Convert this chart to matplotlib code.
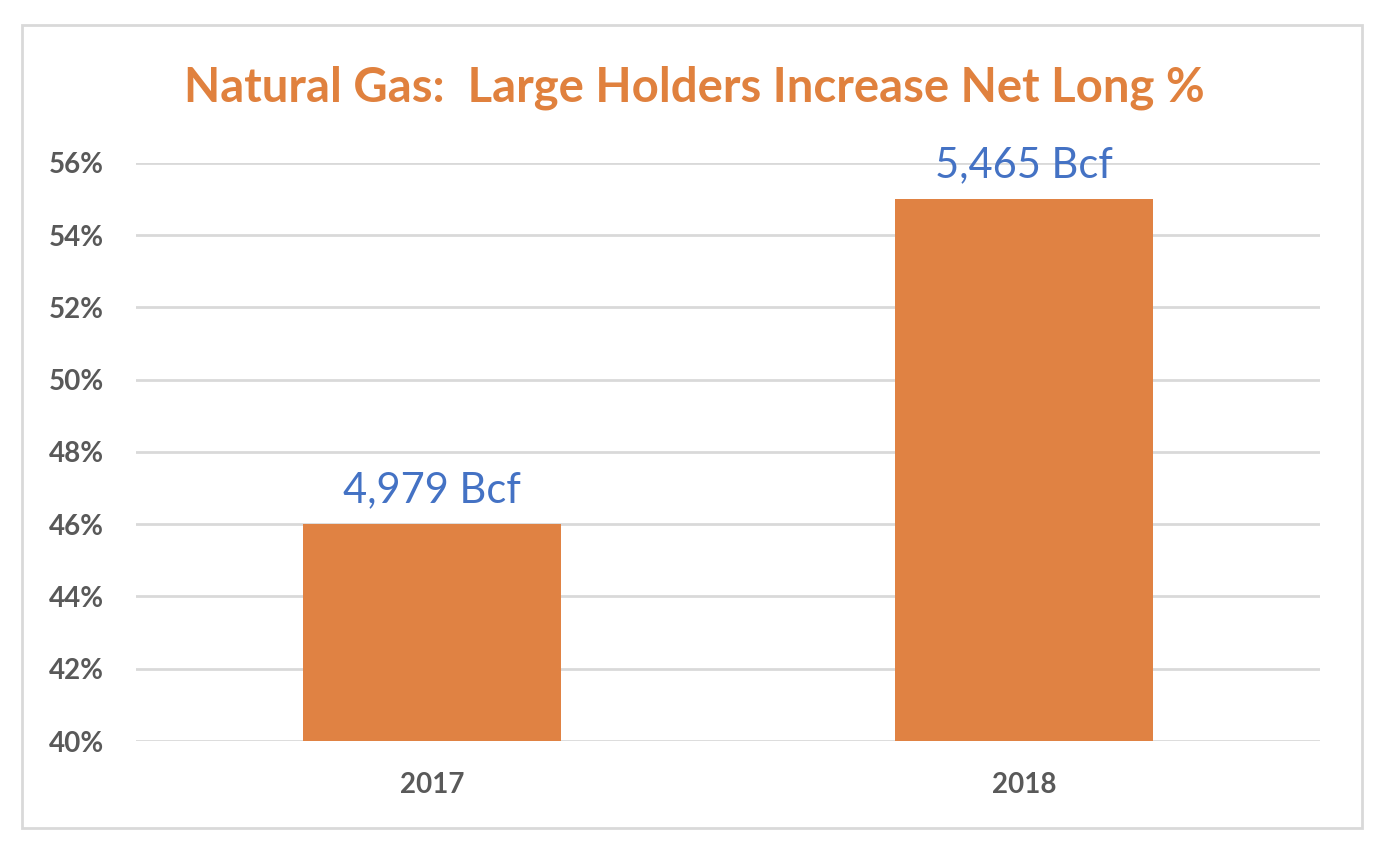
import matplotlib
matplotlib.use("Agg")
import matplotlib.pyplot as plt
from matplotlib.patches import Rectangle
from matplotlib.ticker import FuncFormatter

years = ["2017", "2018"]
net_long_pct = [46, 55]
storage_labels = ["4,979 Bcf", "5,465 Bcf"]

plt.rcParams["font.family"] = ["Lato", "DejaVu Sans"]

fig = plt.figure(figsize=(13.88, 8.52), dpi=100)
fig.patch.set_facecolor("white")

# outer chart border
fig.patches.append(Rectangle((22 / 1388, 1 - 828 / 852), 1340 / 1388, 803 / 852,
                             transform=fig.transFigure, fill=False,
                             edgecolor="#d9d9d9", linewidth=2))

ax = fig.add_axes([136 / 1388, 1 - 741 / 852, 1184 / 1388, 578 / 852])
x = range(len(years))
ax.bar(x, [v - 40 for v in net_long_pct], bottom=40, width=0.437,
       color="#e08243", zorder=3)
for xi, v, lab in zip(x, net_long_pct, storage_labels):
    ax.text(xi, v + 0.42, lab, ha="center", va="bottom", fontsize=30,
            color="#4472c4")

ax.set_xlim(-0.5, 1.5)
ax.set_ylim(40, 56)
ax.set_yticks(range(40, 57, 2))
ax.yaxis.set_major_formatter(FuncFormatter(lambda v, p: f"{v:.0f}%"))
ax.set_xticks(list(x))
ax.set_xticklabels(years)
ax.grid(axis="y", color="#d9d9d9", linewidth=2, zorder=0)
for s in ax.spines.values():
    s.set_visible(False)
ax.tick_params(length=0, labelsize=20, colors="#595959")
ax.tick_params(axis="y", pad=23)
ax.tick_params(axis="x", pad=22)
for t in ax.get_xticklabels() + ax.get_yticklabels():
    t.set_fontweight("bold")

fig.text(0.5, 1 - 88 / 852, "Natural Gas:  Large Holders Increase Net Long %",
         ha="center", va="center", fontsize=34, fontweight="bold",
         color="#e0813e")

fig.savefig("out.png", dpi=100, facecolor="white")
